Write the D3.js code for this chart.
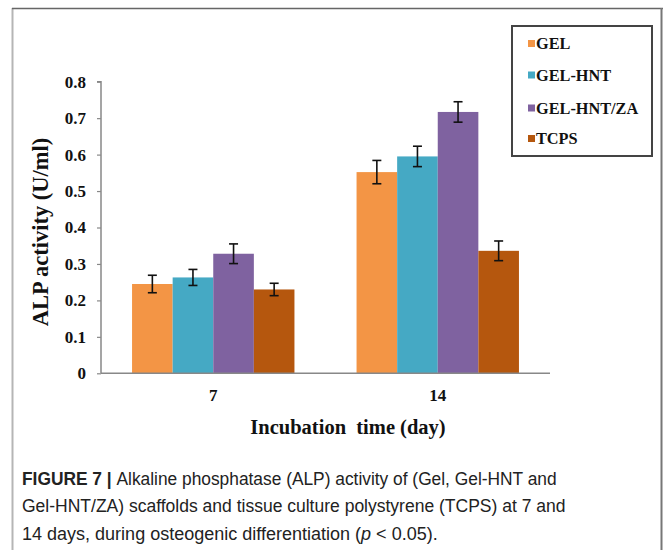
<!DOCTYPE html>
<html><head><meta charset="utf-8">
<script src="https://cdn.jsdelivr.net/npm/d3@7"></script>
<style>body{margin:0;background:#fff}svg{display:block}</style>
</head><body>
<script>
const categories = ["7", "14"];
const seriesNames = ["GEL", "GEL-HNT", "GEL-HNT/ZA", "TCPS"];
const colors = ["#F39545", "#45A9C4", "#7F62A0", "#B5570E"];
const gelValues = [0.245, 0.552];
const gelHntValues = [0.263, 0.595];
const gelHntZaValues = [0.328, 0.717];
const tcpsValues = [0.230, 0.336];
const gelErr = [0.024, 0.032];
const gelHntErr = [0.022, 0.028];
const gelHntZaErr = [0.027, 0.028];
const tcpsErr = [0.017, 0.027];
const yTicks = [0, 0.1, 0.2, 0.3, 0.4, 0.5, 0.6, 0.7, 0.8];
const xTitle = "Incubation  time (day)";
const yTitle = "ALP activity (U/ml)";

const values = [gelValues, gelHntValues, gelHntZaValues, tcpsValues];
const errs = [gelErr, gelHntErr, gelHntZaErr, tcpsErr];
const data = [];
categories.forEach((c, ci) => seriesNames.forEach((s, si) => data.push({c, s, si, v: values[si][ci], e: errs[si][ci]})));

const W = 663, H = 550;
const svg = d3.select("body").append("svg").attr("width", W).attr("height", H);
svg.append("rect").attr("width", W).attr("height", H).attr("fill", "#fff");
// outer frame
svg.append("line").attr("x1", 12.5).attr("x2", 12.5).attr("y1", 8).attr("y2", H).attr("stroke", "#b5b5b5").attr("stroke-width", 2);
svg.append("line").attr("x1", 12).attr("x2", 663).attr("y1", 8.5).attr("y2", 8.5).attr("stroke", "#666").attr("stroke-width", 1.5);
svg.append("line").attr("x1", 661.5).attr("x2", 661.5).attr("y1", 8).attr("y2", H).attr("stroke", "#777").attr("stroke-width", 2);

const y = d3.scaleLinear().domain([0, 0.8]).range([373.3, 81.7]);
const x0 = d3.scaleBand().domain(categories).range([101, 550]).padding(0);
const groupW = 162.4;
const x1 = d3.scaleBand().domain(seriesNames).range([0, groupW]);
const off = (x0.bandwidth() - groupW) / 2;

const serif = "'Liberation Serif', 'Times New Roman', serif";

// bars
svg.append("g").selectAll("rect").data(data).join("rect")
  .attr("x", d => x0(d.c) + off + x1(d.s))
  .attr("y", d => y(d.v))
  .attr("width", x1.bandwidth())
  .attr("height", d => y(0) - y(d.v))
  .attr("fill", d => colors[d.si]);

// error bars
const eg = svg.append("g").attr("stroke", "#111").attr("stroke-width", 1.6);
data.forEach(d => {
  const cx = x0(d.c) + off + x1(d.s) + x1.bandwidth() / 2;
  eg.append("line").attr("x1", cx).attr("x2", cx).attr("y1", y(d.v + d.e)).attr("y2", y(d.v - d.e));
  eg.append("line").attr("x1", cx - 4.5).attr("x2", cx + 4.5).attr("y1", y(d.v + d.e)).attr("y2", y(d.v + d.e));
  eg.append("line").attr("x1", cx - 4.5).attr("x2", cx + 4.5).attr("y1", y(d.v - d.e)).attr("y2", y(d.v - d.e));
});

// y axis
const yAxis = svg.append("g").attr("transform", "translate(101,0)")
  .call(d3.axisLeft(y).tickValues(yTicks).tickSize(4).tickPadding(11).tickFormat(d => d === 0 ? "0" : d3.format(".1f")(d)));
yAxis.select(".domain").attr("stroke", "#888").attr("stroke-width", 1.5).attr("d", `M-4,${y(0.8)}H0V${y(0)}`);
yAxis.selectAll(".tick line").attr("stroke", "#888").attr("stroke-width", 1.2);
yAxis.selectAll("text").attr("font-family", serif).attr("font-weight", "bold").attr("font-size", 17).attr("fill", "#111");

// x axis
const xAxis = svg.append("g").attr("transform", `translate(0,${y(0)})`)
  .call(d3.axisBottom(x0).tickSize(0).tickPadding(16));
xAxis.select(".domain").attr("stroke", "#888").attr("stroke-width", 1.5).attr("d", "M101,0H550");
xAxis.selectAll("text").attr("font-family", serif).attr("font-weight", "bold").attr("font-size", 17).attr("fill", "#111");

// titles
svg.append("text").attr("x", 348).attr("y", 434).attr("text-anchor", "middle")
  .attr("font-family", serif).attr("font-weight", "bold").attr("font-size", 20.5).attr("fill", "#111")
  .attr("xml:space", "preserve").style("white-space", "pre").text(xTitle);
svg.append("text").attr("transform", "translate(48,232) rotate(-90)").attr("text-anchor", "middle")
  .attr("font-family", serif).attr("font-weight", "bold").attr("font-size", 22.5).attr("fill", "#111").text(yTitle);

// legend
const lg = svg.append("g");
lg.append("rect").attr("x", 512).attr("y", 26).attr("width", 140).attr("height", 130)
  .attr("fill", "#fff").attr("stroke", "#444").attr("stroke-width", 2);
const legendY = [43.5, 75, 108, 138.5];
seriesNames.forEach((s, i) => {
  lg.append("rect").attr("x", 528).attr("y", legendY[i] - 3.5).attr("width", 7).attr("height", 7).attr("fill", colors[i]);
  lg.append("text").attr("x", 536).attr("y", legendY[i]).attr("dy", "0.35em")
    .attr("font-family", serif).attr("font-weight", "bold").attr("font-size", 16.3).attr("fill", "#111").text(s);
});

// caption (each line condensed horizontally to the reference width)
const sans = "'Liberation Sans', Arial, sans-serif";
function capLine(yPos, width, parts) {
  const g = svg.append("g");
  const t = g.append("text").attr("x", 0).attr("y", 0)
    .attr("font-family", sans).attr("font-size", 18.5).attr("fill", "#222")
    .attr("xml:space", "preserve").style("white-space", "pre");
  parts.forEach(p => {
    const ts = t.append("tspan").text(p.t);
    if (p.b) ts.attr("font-weight", "bold");
    if (p.i) ts.attr("font-style", "italic");
  });
  const nat = t.node().getComputedTextLength();
  g.attr("transform", `translate(22,${yPos}) scale(${width / nat},1)`);
}
capLine(485, 535, [{t: "FIGURE 7 | ", b: true}, {t: "Alkaline phosphatase (ALP) activity of (Gel, Gel-HNT and"}]);
capLine(512, 544, [{t: "Gel-HNT/ZA) scaffolds and tissue culture polystyrene (TCPS) at 7 and"}]);
capLine(540, 416, [{t: "14 days, during osteogenic differentiation ("}, {t: "p", i: true}, {t: " < 0.05)."}]);
</script>
</body></html>
